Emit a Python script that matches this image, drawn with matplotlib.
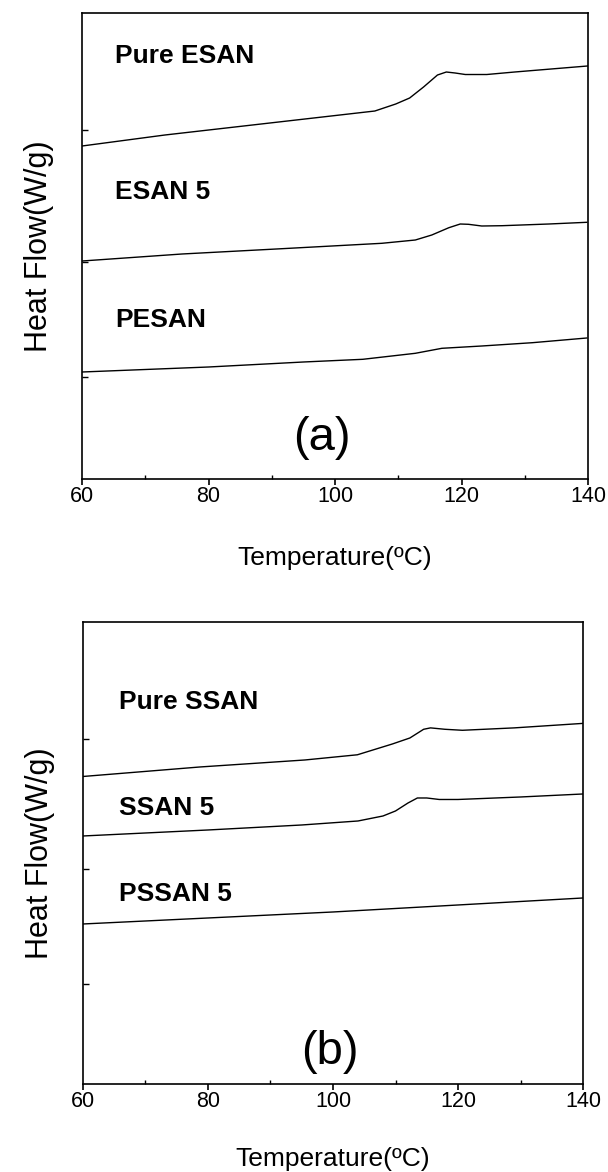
import matplotlib
matplotlib.use("Agg")
import matplotlib.pyplot as plt
from matplotlib.ticker import MultipleLocator, NullFormatter

# --- data (heat flow in arbitrary units) ---
T_pure_esan = [60, 73.1, 89.7, 106.3, 109.6, 111.8, 114.0, 116.2, 117.6, 119.0, 120.6, 124.0, 128.4, 139.9]
hf_pure_esan = [333, 344, 356, 368, 375, 381, 392, 404, 407, 406, 404.5, 404.5, 407, 413]

T_esan5 = [60, 75.8, 91.6, 107.4, 112.7, 115.3, 118.0, 119.8, 121.1, 123.2, 126.4, 133.8, 139.8]
hf_esan5 = [218, 225, 230.3, 235.7, 239, 244, 251.3, 255, 254.7, 253, 253.3, 255, 256.7]

T_pesan = [60, 80, 95, 104.4, 112.7, 116.9, 123.2, 131.2, 139.8]
hf_pesan = [107, 112, 117, 119.7, 125.7, 130.7, 133, 136.3, 141]

T_pure_ssan = [60, 78.7, 95.5, 103.9, 109.5, 112.3, 114.5, 115.6, 117.9, 120.7, 129.0, 140]
hf_pure_ssan = [307.5, 317, 324, 329.2, 340, 346, 354.7, 356.1, 354.7, 353.7, 356.1, 360.6]

T_ssan5 = [60, 80, 95, 104, 108, 110, 112, 113.5, 115, 117, 120, 130, 140]
hf_ssan5 = [248, 254, 259, 263, 268, 273, 281, 286, 286, 284.5, 284.5, 287, 290]

T_pssan5 = [60, 80, 100, 120, 140]
hf_pssan5 = [160, 166, 172, 179, 186]

labels_a = ["Pure ESAN", "ESAN 5", "PESAN"]
labels_b = ["Pure SSAN", "SSAN 5", "PSSAN 5"]

plt.rcParams["font.family"] = "Liberation Sans"

fig = plt.figure(figsize=(6.08, 11.72), dpi=100)
ax_a = fig.add_axes([0.1349, 0.5913, 0.8322, 0.3976])
ax_b = fig.add_axes([0.1365, 0.0751, 0.8224, 0.3942])


def style_axis(ax, ylim, yticks, xpad):
    ax.set_xlim(60, 140)
    ax.set_ylim(*ylim)
    ax.xaxis.set_major_locator(MultipleLocator(20))
    ax.xaxis.set_minor_locator(MultipleLocator(10))
    ax.tick_params(axis="x", which="major", direction="out", length=4, width=1.2,
                   labelsize=15.5, pad=1)
    ax.tick_params(axis="x", which="minor", direction="in", length=3, width=1)
    ax.set_yticks(yticks)
    ax.yaxis.set_major_formatter(NullFormatter())
    ax.tick_params(axis="y", direction="in", length=4, width=1)
    for sp in ax.spines.values():
        sp.set_linewidth(1.2)
    ax.set_xlabel("Temperature(\u00baC)", fontsize=19, labelpad=xpad)
    ax.set_ylabel("Heat Flow(W/g)", fontsize=22, labelpad=17)


# panel (a)
ax_a.plot(T_pure_esan, hf_pure_esan, color="black", lw=1.0)
ax_a.plot(T_esan5, hf_esan5, color="black", lw=1.0)
ax_a.plot(T_pesan, hf_pesan, color="black", lw=1.0)
style_axis(ax_a, (0, 466), [102, 217, 349], 28)
for lbl, yv in zip(labels_a, [423, 287, 159]):
    ax_a.text(65.2, yv, lbl, fontsize=19, fontweight="bold", va="center", ha="left")
ax_a.text(98, 41, "(a)", fontsize=34, ha="center", va="center")

# panel (b)
ax_b.plot(T_pure_ssan, hf_pure_ssan, color="black", lw=1.0)
ax_b.plot(T_ssan5, hf_ssan5, color="black", lw=1.0)
ax_b.plot(T_pssan5, hf_pssan5, color="black", lw=1.0)
style_axis(ax_b, (0, 462), [100, 215, 345], 25)
for lbl, yv in zip(labels_b, [382, 276, 190]):
    ax_b.text(65.8, yv, lbl, fontsize=19, fontweight="bold", va="center", ha="left")
ax_b.text(99.5, 32, "(b)", fontsize=34, ha="center", va="center")

fig.savefig("out.png", dpi=100)
